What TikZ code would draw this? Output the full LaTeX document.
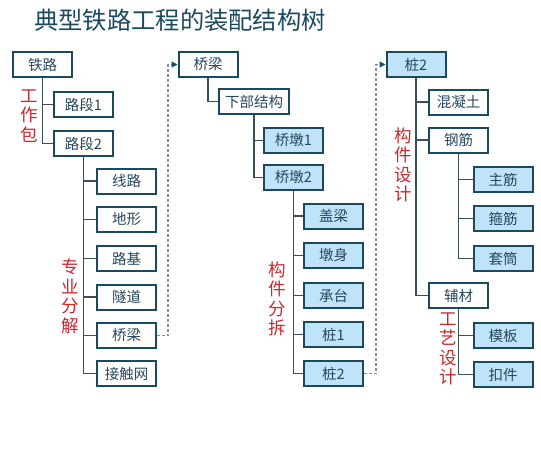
\documentclass[tikz,border=0pt]{standalone}
\usepackage{fontspec}
\setmainfont{Noto Sans CJK SC}
\newfontfamily\cjk{Noto Sans CJK SC}
\usetikzlibrary{arrows.meta,calc}
\definecolor{boxc}{HTML}{1B4A60}
\definecolor{fillc}{HTML}{BFE3F7}
\definecolor{txtc}{HTML}{27475C}
\definecolor{redc}{HTML}{C8282E}
\definecolor{linec}{HTML}{3A4E5C}
\definecolor{dashc}{HTML}{8A8F96}
\tikzset{
  box/.style={draw=boxc, line width=2pt, minimum width=59pt, minimum height=25pt, inner sep=0pt, text=txtc, font=\cjk\fontsize{14.5}{15}\selectfont, fill=white},
  fbox/.style={box, fill=fillc},
  conn/.style={draw=linec, line width=1.2pt},
  dconn/.style={draw=dashc, line width=1.2pt, dashed, dash pattern=on 3pt off 2pt, -{Triangle[length=6pt,width=6pt,fill=boxc,color=boxc]}},
  lab/.style={text=redc, align=center, inner sep=0pt, font=\cjk\fontsize{17.5}{19.5}\selectfont},
}
\begin{document}
\begin{tikzpicture}[x=1pt,y=-1pt]
\useasboundingbox (0,0) rectangle (541,450);
\node[anchor=west, text=boxc, inner sep=0pt, font=\cjk\fontsize{24.3}{25}\selectfont] (title) at (34,20) {典型铁路工程的装配结构树};

% column 1
\node[box] (tl) at (42.5,64.5) {铁路};
\node[box] (ld1) at (83.5,104.5) {路段1};
\node[box] (ld2) at (83.5,143.5) {路段2};
\node[box] (xl) at (126.5,181) {线路};
\node[box] (dx) at (126.5,219.5) {地形};
\node[box] (lj) at (126.5,258.5) {路基};
\node[box] (sd) at (126.5,297) {隧道};
\node[box] (ql) at (126.5,335.5) {桥梁};
\node[box] (jcw) at (126.5,373.5) {接触网};

% column 2
\node[box] (qlt) at (208,64.5) {桥梁};
\node[box, minimum width=70pt] (xbjg) at (254,101.5) {下部结构};
\node[fbox] (qd1) at (293.5,140.5) {桥墩1};
\node[fbox] (qd2) at (293.5,177.5) {桥墩2};
\node[fbox] (gl) at (333.5,216) {盖梁};
\node[fbox] (ds) at (333.5,255.5) {墩身};
\node[fbox] (ct) at (333.5,295.5) {承台};
\node[fbox] (z1) at (333.5,334.5) {桩1};
\node[fbox] (z2) at (333.5,373.5) {桩2};

% column 3
\node[fbox] (z2t) at (416,64.5) {桩2};
\node[box] (hnt) at (458.5,102) {混凝土};
\node[box] (gj) at (458.5,140) {钢筋};
\node[fbox] (zj) at (503,179.5) {主筋};
\node[fbox] (gjj) at (503,218.5) {箍筋};
\node[fbox] (tt) at (503,258.5) {套筒};
\node[box] (fc) at (458.5,295.5) {辅材};
\node[fbox] (mb) at (503,335.5) {模板};
\node[fbox] (kj) at (503,374.5) {扣件};

% connectors
\foreach \c in {ld1,ld2} \draw[conn] (tl.south) |- (\c.west);
\foreach \c in {xl,dx,lj,sd,ql,jcw} \draw[conn] (ld2.south) |- (\c.west);
\draw[conn] (qlt.south) |- (xbjg.west);
\foreach \c in {qd1,qd2} \draw[conn] (xbjg.south) |- (\c.west);
\foreach \c in {gl,ds,ct,z1,z2} \draw[conn] (qd2.south) |- (\c.west);
\foreach \c in {hnt,gj,fc} \draw[conn] (z2t.south) |- (\c.west);
\foreach \c in {zj,gjj,tt} \draw[conn] (gj.south) |- (\c.west);
\foreach \c in {mb,kj} \draw[conn] (fc.south) |- (\c.west);

% dashed links
\draw[dconn] (ql.east) -- ++(11,0) |- (qlt.west);
\draw[dconn] (z2.east) -- ++(12,0) |- (z2t.west);

% labels
\node[lab] (l1) at (29,116) {工\\作\\包};
\node[lab] (l2) at (70,296.5) {专\\业\\分\\解};
\node[lab] (l3) at (277,299) {构\\件\\分\\拆};
\node[lab] (l4) at (403,165) {构\\件\\设\\计};
\node[lab] (l5) at (448,349) {工\\艺\\设\\计};
\end{tikzpicture}
\end{document}
